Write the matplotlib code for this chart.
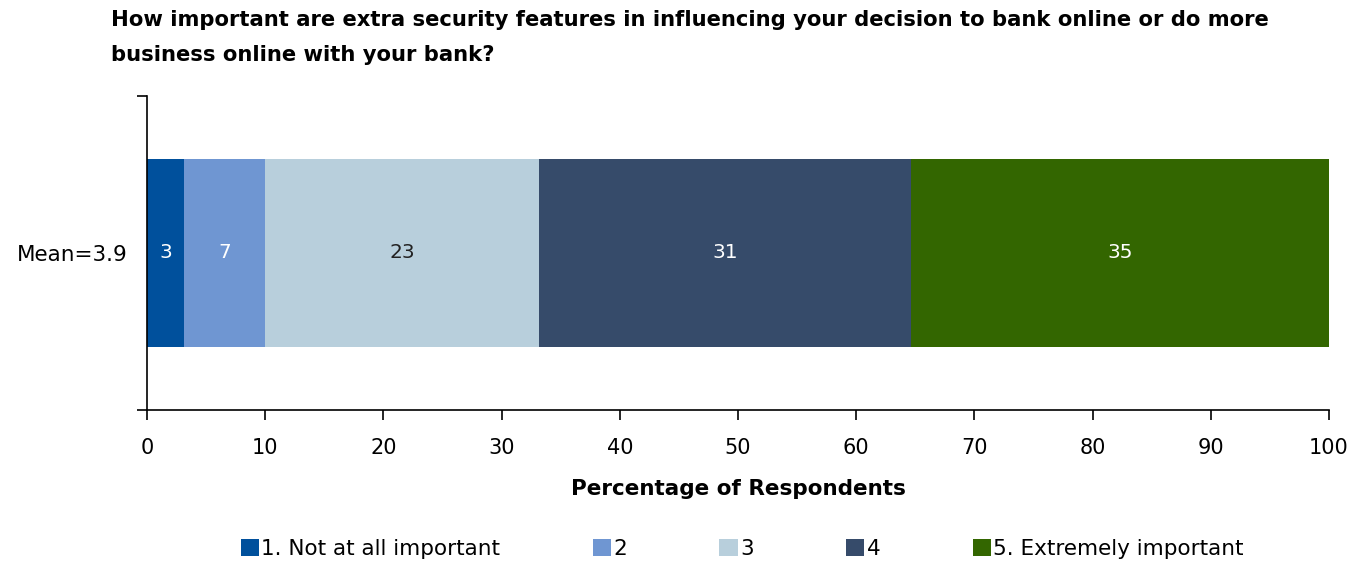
import matplotlib
matplotlib.use("Agg")
import matplotlib.pyplot as plt
from matplotlib.patches import Patch

plt.rcParams['font.family'] = ['DejaVu Sans']

categories = ["1. Not at all important", "2", "3", "4", "5. Extremely important"]
values = [3.1, 6.9, 23.2, 31.4, 35.4]
labels = ["3", "7", "23", "31", "35"]
colors = ["#00509C", "#6F96D2", "#B8CFDC", "#364B6A", "#336600"]
label_colors = ["white", "white", "#222222", "white", "white"]
row_label = "Mean=3.9"
title_lines = ["How important are extra security features in influencing your decision to bank online or do more",
               "business online with your bank?"]
xticks = [0, 10, 20, 30, 40, 50, 60, 70, 80, 90, 100]

W, H = 1352, 562
fig = plt.figure(figsize=(W / 100, H / 100), dpi=100)
ax = fig.add_axes([147 / W, 1 - 410 / H, (1329 - 147) / W, (410 - 96) / H])

left = 0
for v, lab, c, lc in zip(values, labels, colors, label_colors):
    ax.barh(0, v, left=left, height=0.6, color=c, edgecolor='none')
    ax.text(left + v / 2, 0, lab, ha='center', va='center', color=lc, fontsize=14.5)
    left += v

ax.set_xlim(0, 100)
ax.set_ylim(-0.5, 0.5)
ax.set_xticks(xticks)
ax.set_xticklabels([str(t) for t in xticks], fontsize=15)
ax.set_yticks([-0.5, 0.5])
ax.set_yticklabels([])
ax.set_yticks([0], minor=True)
ax.set_yticklabels([row_label], minor=True, fontsize=15.5)
ax.tick_params(axis='y', which='minor', length=0, pad=14)
ax.tick_params(axis='both', which='major', length=7, width=1.2, direction='out', color='black')
ax.tick_params(axis='x', pad=13)
for s in ['top', 'right']:
    ax.spines[s].set_visible(False)
for s in ['left', 'bottom']:
    ax.spines[s].set_linewidth(1.2)
ax.set_xlabel("Percentage of Respondents", fontsize=15.5, fontweight='bold', labelpad=15)

fig.text(111 / W, 1 - 20 / H, title_lines[0], fontsize=15.2, fontweight='bold', ha='left', va='center')
fig.text(111 / W, 1 - 55 / H, title_lines[1], fontsize=15.2, fontweight='bold', ha='left', va='center')

handles = [Patch(facecolor=c, edgecolor='none') for c in colors]
fig.legend(handles, categories, loc='center', bbox_to_anchor=(0.549, 1 - 549 / H), ncol=5,
           frameon=False, fontsize=15.5, handlelength=0.85, handleheight=0.85, handletextpad=0.1,
           columnspacing=4.3)

fig.savefig("out.png", dpi=100)
